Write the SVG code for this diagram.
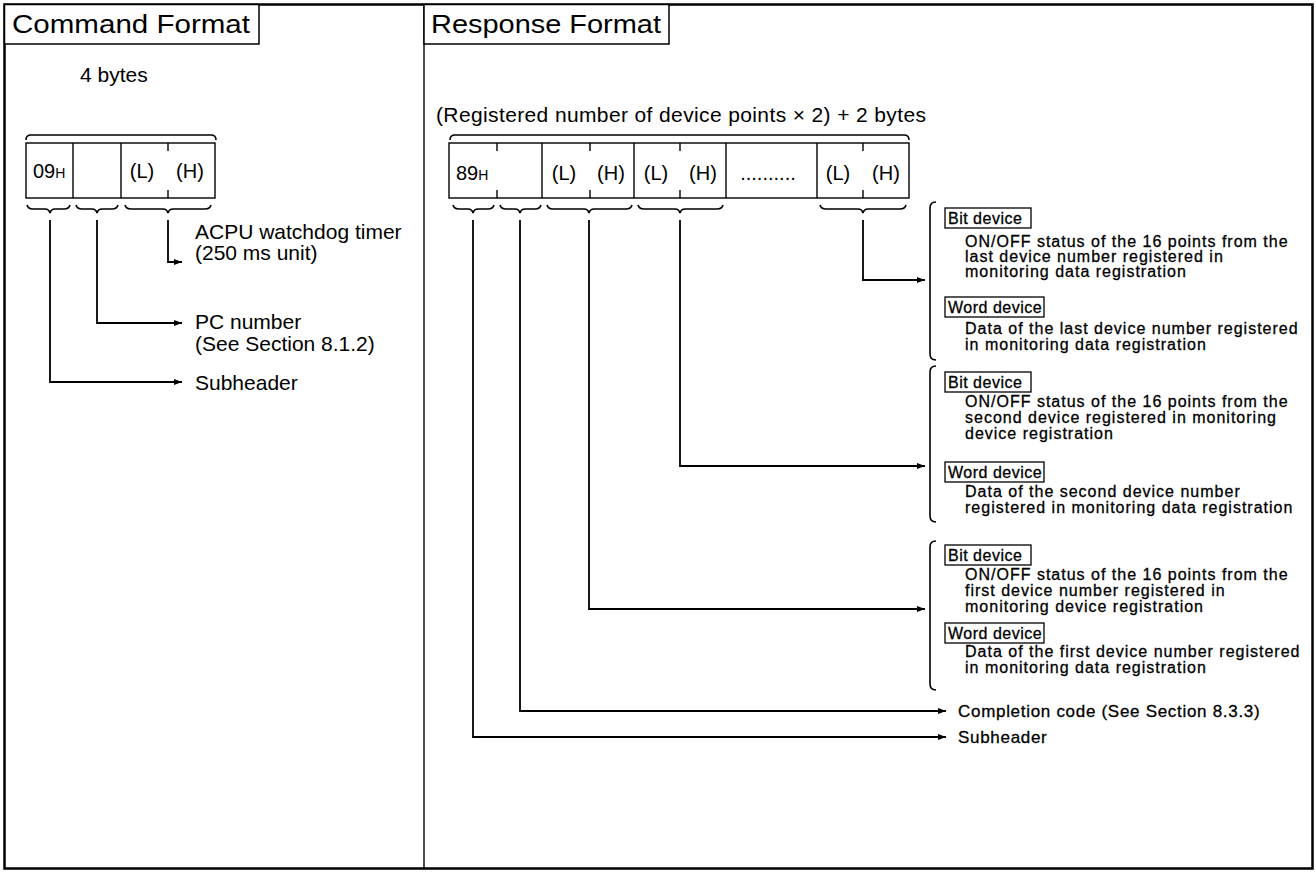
<svg xmlns="http://www.w3.org/2000/svg" width="1316" height="872" viewBox="0 0 1316 872">
  <style>
    .frame { fill: none; stroke: #000; stroke-width: 2.5; }
    .thin { fill: none; stroke: #000; stroke-width: 1.4; }
    .wire { fill: none; stroke: #000; stroke-width: 1.8; }
    .brace { fill: none; stroke: #000; stroke-width: 1.6; }
    .tab { fill: #fff; stroke: #000; stroke-width: 1.5; }
    .head { font-family: "Liberation Sans", Arial, sans-serif; font-size: 26px; fill: #000; }
    .lbl { font-family: "Liberation Sans", Arial, sans-serif; font-size: 21px; fill: #000; }
    .cell { font-family: "Liberation Sans", Arial, sans-serif; font-size: 20px; fill: #000; }
    .sub { font-size: 14px; }
    .note { font-family: "Liberation Sans", Arial, sans-serif; font-size: 16px; letter-spacing: 1px; fill: #000; stroke: #000; stroke-width: 0.3px; }
    .tag { font-family: "Liberation Sans", Arial, sans-serif; font-size: 16px; letter-spacing: 0.5px; fill: #000; stroke: #000; stroke-width: 0.3px; }
    .tagbox { fill: #fff; stroke: #000; stroke-width: 1.3; }
    .big { font-family: "Liberation Sans", Arial, sans-serif; font-size: 17px; letter-spacing: 0.7px; fill: #000; stroke: #000; stroke-width: 0.3px; }
  </style>
  <defs>
    <marker id="arrow" markerWidth="9" markerHeight="7" refX="8" refY="3.5" orient="auto" markerUnits="userSpaceOnUse">
      <path d="M0,0.5 L8,3.5 L0,6.5 z" fill="#000"/>
    </marker>
  </defs>

  <!-- outer frame and panel divider -->
  <g id="frame">
    <rect class="frame" x="4.5" y="4.5" width="1308" height="864"/>
    <line class="thin" x1="424" y1="4" x2="424" y2="868"/>
  </g>

  <!-- left panel: command message -->
  <g id="command-title">
    <rect class="tab" x="4.5" y="4.5" width="254.5" height="39.5"/>
    <text class="head" x="12" y="33" textLength="238" lengthAdjust="spacingAndGlyphs">Command Format</text>
  </g>

  <g id="command-frame">
    <text class="lbl" x="80" y="82">4 bytes</text>
    <path class="brace" d="M26,140 Q26,135 31,135 L211,135 Q216,135 216,140"/>
    <rect class="thin" x="26" y="143" width="189" height="55"/>
    <line class="thin" x1="73" y1="143" x2="73" y2="198"/>
    <line class="thin" x1="121" y1="143" x2="121" y2="198"/>
    <line class="thin" x1="168" y1="143" x2="168" y2="151"/>
    <line class="thin" x1="168" y1="190" x2="168" y2="198"/>
    <text class="cell" x="33" y="178">09<tspan class="sub">H</tspan></text>
    <text class="cell" x="142" y="178" text-anchor="middle">(L)</text>
    <text class="cell" x="190" y="178" text-anchor="middle">(H)</text>
    <path class="brace" d="M27,205 Q28,209 33,209 L45,209 Q49,209 50,213 Q51,209 55,209 L64,209 Q69,209 70,205"/>
    <path class="brace" d="M76,205 Q77,209 82,209 L92,209 Q96,209 97,213 Q98,209 102,209 L112,209 Q117,209 118,205"/>
    <path class="brace" d="M125,205 Q126,209 131,209 L163,209 Q167,209 168,213 Q169,209 173,209 L205,209 Q210,209 211,205"/>
  </g>

  <g id="command-labels">
    <text class="lbl" x="195" y="239">ACPU watchdog timer</text>
    <text class="lbl" x="195" y="260">(250 ms unit)</text>
    <text class="lbl" x="195" y="329">PC number</text>
    <text class="lbl" x="195" y="351">(See Section 8.1.2)</text>
    <text class="lbl" x="195" y="390">Subheader</text>
  </g>

  <!-- right panel: response message -->
  <g id="response-title">
    <rect class="tab" x="424" y="4.5" width="245" height="39.5"/>
    <text class="head" x="431" y="33" textLength="230" lengthAdjust="spacingAndGlyphs">Response Format</text>
  </g>

  <g id="response-frame">
    <text class="lbl" x="436" y="122" textLength="490" lengthAdjust="spacing">(Registered number of device points × 2) + 2 bytes</text>
    <path class="brace" d="M450,140 Q450,135 455,135 L904,135 Q909,135 909,140"/>
    <rect class="thin" x="449" y="143" width="460" height="55"/>
    <line class="thin" x1="542" y1="143" x2="542" y2="198"/>
    <line class="thin" x1="634" y1="143" x2="634" y2="198"/>
    <line class="thin" x1="726" y1="143" x2="726" y2="198"/>
    <line class="thin" x1="817" y1="143" x2="817" y2="198"/>
    <line class="thin" x1="497" y1="143" x2="497" y2="151"/>
    <line class="thin" x1="497" y1="190" x2="497" y2="198"/>
    <line class="thin" x1="590" y1="143" x2="590" y2="151"/>
    <line class="thin" x1="590" y1="190" x2="590" y2="198"/>
    <line class="thin" x1="680" y1="143" x2="680" y2="151"/>
    <line class="thin" x1="680" y1="190" x2="680" y2="198"/>
    <line class="thin" x1="863" y1="143" x2="863" y2="151"/>
    <line class="thin" x1="863" y1="190" x2="863" y2="198"/>
    <text class="cell" x="456" y="180">89<tspan class="sub">H</tspan></text>
    <text class="cell" x="564" y="180" text-anchor="middle">(L)</text>
    <text class="cell" x="611" y="180" text-anchor="middle">(H)</text>
    <text class="cell" x="656" y="180" text-anchor="middle">(L)</text>
    <text class="cell" x="703" y="180" text-anchor="middle">(H)</text>
    <text class="cell" x="768" y="180" text-anchor="middle">..........</text>
    <text class="cell" x="838" y="180" text-anchor="middle">(L)</text>
    <text class="cell" x="886" y="180" text-anchor="middle">(H)</text>
    <path class="brace" d="M453,205 Q454,209 459,209 L468,209 Q472,209 473,213 Q474,209 478,209 L488,209 Q493,209 494,205"/>
    <path class="brace" d="M500,205 Q501,209 506,209 L515,209 Q519,209 520,213 Q521,209 525,209 L535,209 Q540,209 541,205"/>
    <path class="brace" d="M547,205 Q548,209 553,209 L584,209 Q588,209 589,213 Q590,209 594,209 L626,209 Q631,209 632,205"/>
    <path class="brace" d="M638,205 Q639,209 644,209 L675,209 Q679,209 680,213 Q681,209 685,209 L717,209 Q722,209 723,205"/>
    <path class="brace" d="M820,205 Q821,209 826,209 L858,209 Q862,209 863,213 Q864,209 868,209 L900,209 Q905,209 906,205"/>
  </g>

  <!-- description of the last registered device -->
  <g id="last-device">
    <path class="brace" d="M936,202 Q930,202 930,208 L930,354 Q930,360 936,360"/>
    <rect class="tagbox" x="945" y="208" width="86" height="20"/>
    <text class="tag" x="948" y="224">Bit device</text>
    <text class="note" x="965" y="247">ON/OFF status of the 16 points from the</text>
    <text class="note" x="965" y="262">last device number registered in</text>
    <text class="note" x="965" y="277">monitoring data registration</text>
    <rect class="tagbox" x="945" y="297" width="99" height="20"/>
    <text class="tag" x="948" y="313">Word device</text>
    <text class="note" x="965" y="334">Data of the last device number registered</text>
    <text class="note" x="965" y="350">in monitoring data registration</text>
  </g>

  <!-- description of the second registered device -->
  <g id="second-device">
    <path class="brace" d="M936,366 Q930,366 930,372 L930,516 Q930,522 936,522"/>
    <rect class="tagbox" x="945" y="372" width="86" height="20"/>
    <text class="tag" x="948" y="388">Bit device</text>
    <text class="note" x="965" y="407">ON/OFF status of the 16 points from the</text>
    <text class="note" x="965" y="423">second device registered in monitoring</text>
    <text class="note" x="965" y="439">device registration</text>
    <rect class="tagbox" x="945" y="462" width="99" height="20"/>
    <text class="tag" x="948" y="478">Word device</text>
    <text class="note" x="965" y="497">Data of the second device number</text>
    <text class="note" x="965" y="513">registered in monitoring data registration</text>
  </g>

  <!-- description of the first registered device -->
  <g id="first-device">
    <path class="brace" d="M936,541 Q930,541 930,547 L930,684 Q930,690 936,690"/>
    <rect class="tagbox" x="945" y="545" width="86" height="20"/>
    <text class="tag" x="948" y="561">Bit device</text>
    <text class="note" x="965" y="580">ON/OFF status of the 16 points from the</text>
    <text class="note" x="965" y="596">first device number registered in</text>
    <text class="note" x="965" y="612">monitoring device registration</text>
    <rect class="tagbox" x="945" y="623" width="99" height="20"/>
    <text class="tag" x="948" y="639">Word device</text>
    <text class="note" x="965" y="657">Data of the first device number registered</text>
    <text class="note" x="965" y="673">in monitoring data registration</text>
  </g>

  <g id="response-labels">
    <text class="big" x="958" y="717">Completion code (See Section 8.3.3)</text>
    <text class="big" x="958" y="743">Subheader</text>
  </g>

  <!-- leader lines from the byte fields to their descriptions -->
  <g id="connectors">
    <polyline class="wire" points="168,220 168,262 182,262" marker-end="url(#arrow)"/>
    <polyline class="wire" points="97,220 97,323 182,323" marker-end="url(#arrow)"/>
    <polyline class="wire" points="50,220 50,382 182,382" marker-end="url(#arrow)"/>
    <polyline class="wire" points="863,220 863,280 925,280" marker-end="url(#arrow)"/>
    <polyline class="wire" points="680,220 680,466 925,466" marker-end="url(#arrow)"/>
    <polyline class="wire" points="589,220 589,609 925,609" marker-end="url(#arrow)"/>
    <polyline class="wire" points="520,220 520,711 946,711" marker-end="url(#arrow)"/>
    <polyline class="wire" points="473,220 473,737 946,737" marker-end="url(#arrow)"/>
  </g>
</svg>
